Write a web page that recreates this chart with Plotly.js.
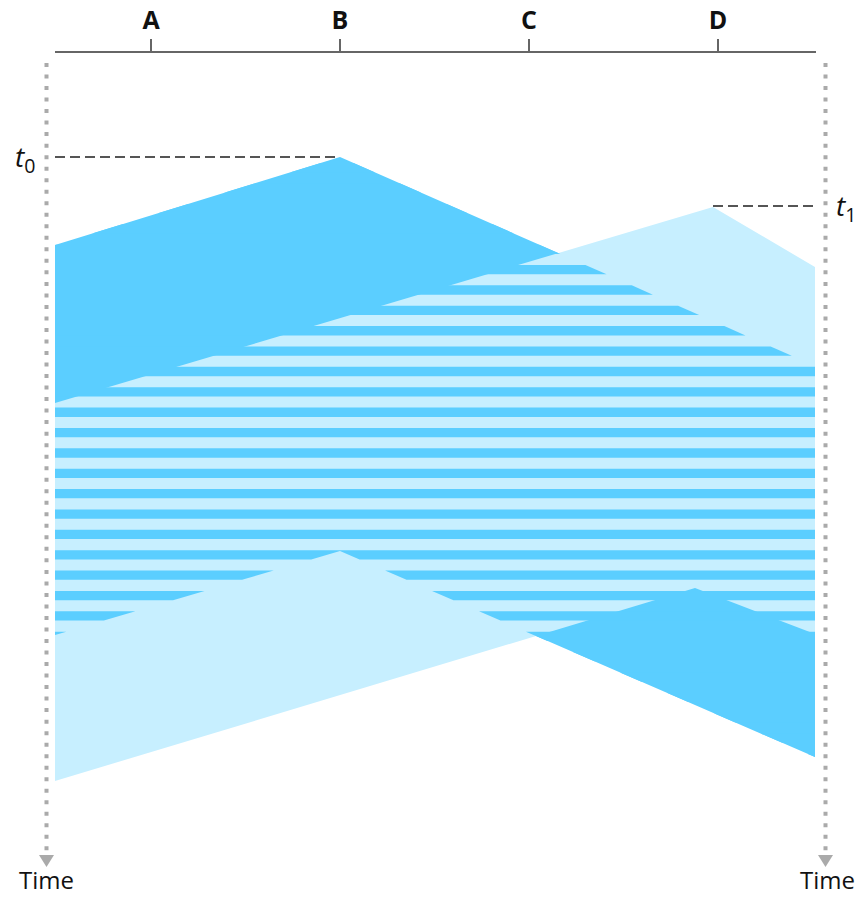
<!DOCTYPE html>
<html><head><meta charset="utf-8">
<script src="https://cdn.plot.ly/plotly-3.0.1.min.js"></script>
<style>html,body{margin:0;padding:0;background:#fff}#chart{width:858px;height:898px}</style>
</head><body><div id="chart"></div>
<script>
// ---- data (pixel-time units, y grows downward = later time) ----
const stations = ['A', 'B', 'C', 'D'];
const stationX = [151, 340, 529, 718];
const busX = [55, 816];
// B's transmission (dark): leading / trailing edge at x = [left end, apex, right end]
const bEdgeX = [55, 340, 815];
const bStartT = [245, 157, 366];
const bEndT = [635, 551, 757];
// D's transmission (light)
const dStartX = [55, 713, 815];
const dStartT = [403, 207, 267];
const dEndX = [55, 695, 815];
const dEndT = [781, 588, 634];
// time markers
const markTimes = [157, 206];
const markSubs = ['0', '1'];
const timeAxisX = [46.5, 825.5];

// ---- style ----
const DARK = '#5BCEFF', LIGHT = '#C7EFFF';
const stripeStart = 265, stripePeriod = 20.37, stripeThick = 9.3;

function band(xTop, tTop, xBot, tBot) {
  const pts = [];
  for (let i = 0; i < xTop.length; i++) pts.push([xTop[i], tTop[i]]);
  for (let i = xBot.length - 1; i >= 0; i--) pts.push([xBot[i], tBot[i]]);
  return pts;
}
function clipHalf(pts, inside, inter) {
  const out = [];
  for (let i = 0; i < pts.length; i++) {
    const cur = pts[i], prev = pts[(i + pts.length - 1) % pts.length];
    const ci = inside(cur), pi = inside(prev);
    if (ci) { if (!pi) out.push(inter(prev, cur)); out.push(cur); }
    else if (pi) out.push(inter(prev, cur));
  }
  return out;
}
const interY = y => (p, q) => [p[0] + (q[0] - p[0]) * (y - p[1]) / (q[1] - p[1]), y];
function clipRows(poly, ya, yb) {
  let r = clipHalf(poly, p => p[1] >= ya, interY(ya));
  if (!r.length) return r;
  return clipHalf(r, p => p[1] <= yb, interY(yb));
}
function polyTrace(pts, color) {
  return {
    x: pts.map(p => p[0]).concat([pts[0][0]]),
    y: pts.map(p => p[1]).concat([pts[0][1]]),
    mode: 'lines', fill: 'toself', fillcolor: color,
    line: {width: 0, color: color}, hoverinfo: 'skip', xaxis: 'x', yaxis: 'y'
  };
}

const bPoly = band(bEdgeX, bStartT, bEdgeX, bEndT);
const dPoly = band(dStartX, dStartT, dEndX, dEndT);

const traces = [polyTrace(bPoly, DARK), polyTrace(dPoly, LIGHT)];
for (let k = -8; k < 30; k++) {
  const ya = stripeStart + k * stripePeriod;
  const piece = clipRows(bPoly, ya, ya + stripeThick);
  if (piece.length >= 3) traces.push(polyTrace(piece, DARK));
}
// carrier for the station axis
traces.push({x: stationX, y: stationX.map(() => 0), xaxis: 'x2', yaxis: 'y',
  mode: 'markers', marker: {opacity: 0}, hoverinfo: 'skip'});

const shapes = [];
shapes.push({type: 'line', xref: 'x', yref: 'y', x0: busX[0], x1: bEdgeX[1], y0: markTimes[0], y1: markTimes[0],
  line: {color: '#555', width: 2, dash: '10px,5px'}});
shapes.push({type: 'line', xref: 'x', yref: 'y', x0: dStartX[1], x1: busX[1], y0: markTimes[1], y1: markTimes[1],
  line: {color: '#555', width: 2, dash: '10px,5px'}});
timeAxisX.forEach(x => {
  shapes.push({type: 'line', xref: 'x', yref: 'y', x0: x, x1: x, y0: 63, y1: 852,
    line: {color: '#AAAAAA', width: 4, dash: '4px,7.52px'}});
  shapes.push({type: 'path', xref: 'x', yref: 'y',
    path: `M${x - 7.5},855 L${x + 7.5},855 L${x},867 Z`, fillcolor: '#AAAAAA', line: {width: 0}});
});

const fnt = {family: 'Open Sans, Noto Sans, sans-serif', size: 28, color: '#111'};
const annotations = [
  {xref: 'x', yref: 'y', x: 37, y: markTimes[0] + 1, xanchor: 'right', yanchor: 'middle', showarrow: false,
   text: '<i>t</i><sub>' + markSubs[0] + '</sub>', font: fnt},
  {xref: 'x', yref: 'y', x: 834, y: markTimes[1] + 1, xanchor: 'left', yanchor: 'middle', showarrow: false,
   text: '<i>t</i><sub>' + markSubs[1] + '</sub>', font: fnt},
];
timeAxisX.forEach((x, i) => annotations.push({xref: 'x', yref: 'y', x: i === 0 ? x : x + 1.5, y: 897,
  xanchor: 'center', yanchor: 'bottom', showarrow: false, text: 'Time', borderpad: 0,
  font: {family: 'Open Sans, Noto Sans, sans-serif', size: 24, color: '#111'}}));

const layout = {
  width: 858, height: 898, margin: {l: 0, r: 0, t: 0, b: 0},
  paper_bgcolor: '#fff', plot_bgcolor: 'rgba(0,0,0,0)', showlegend: false,
  xaxis: {range: [0, 858], visible: false, fixedrange: true},
  yaxis: {range: [898, 0], visible: false, fixedrange: true},
  xaxis2: {domain: [busX[0] / 858, busX[1] / 858], range: busX, anchor: 'free', position: 1 - 52.3 / 898,
    side: 'top', showline: true, linecolor: '#666', linewidth: 2, ticks: 'outside', ticklen: 12,
    tickwidth: 2, tickcolor: '#666', tickvals: stationX, ticktext: stations, showgrid: false, zeroline: false,
    tickfont: {family: 'Open Sans, Noto Sans, sans-serif', size: 25, color: '#111', weight: 'bold'},
    fixedrange: true},
  shapes: shapes, annotations: annotations
};
Plotly.newPlot('chart', traces, layout, {staticPlot: true});
</script></body></html>
